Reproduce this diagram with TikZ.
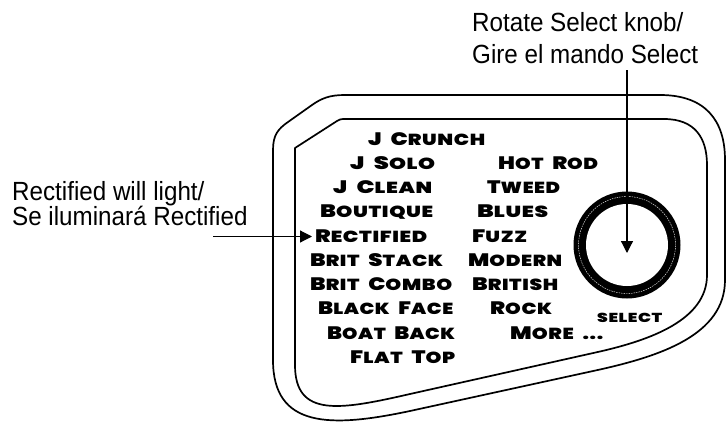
\documentclass[tikz,border=0pt]{standalone}
\usepackage{fontspec}
\usepackage{graphicx}
\setmainfont{Liberation Sans}
\newfontfamily\sidefnt{Liberation Sans}[FakeStretch=0.92]
\newfontfamily\lblfont{Poppins}[UprightFont={* Black}, LetterSpace=3, WordSpace=2.2]
\usetikzlibrary{arrows.meta}
\newcommand\Kb[1]{{\fontsize{18}{18}\selectfont #1}}
\newcommand\lab[2]{\resizebox{#1pt}{\height}{\lblfont\fontsize{16}{16}\selectfont #2}}
\tikzset{
  outline/.style={line width=1.7pt, line join=round},
  lbl/.style={inner sep=0pt, anchor=base west},
  side/.style={inner sep=0pt, anchor=base west, font=\sidefnt\fontsize{26.3}{30}\selectfont},
  pointer/.style={line width=1.2pt, -{Triangle[length=12pt,width=12pt]}}
}
\begin{document}
\begin{tikzpicture}[x=1pt,y=-1pt]
\useasboundingbox (0,0) rectangle (726,423);
% outer outline
\draw[outline] (345,95) -- (660,95)
  .. controls (705,95) and (725,120) .. (725,160)
  -- (725,280)
  .. controls (725,335) and (660,356) .. (600,369.5)
  -- (410,411)
  .. controls (330,428) and (273,428) .. (273,360)
  -- (273,150)
  .. controls (273,135) and (278,129) .. (288,122)
  -- (312,105)
  .. controls (322,98) and (330,95) .. (345,95) -- cycle;
% inner outline
\draw[outline] (345,119) -- (664,119)
  .. controls (695,119) and (707,138) .. (707,165)
  -- (707,275)
  .. controls (707,320) and (650,340) .. (600,351.5)
  -- (410,394)
  .. controls (340,410) and (295,418) .. (295,365)
  -- (295,148)
  -- (337,121)
  .. controls (339,119.5) and (341,119) .. (345,119) -- cycle;
% knob
\coordinate (knob) at (627,245);
\fill (knob) circle (53.5pt);
\fill[white] (knob) circle (41pt);
\draw[white, line width=0.4pt, dash pattern=on 1.5pt off 1pt] (knob) circle (48.5pt);
% labels
\node[lbl] (jcrunch) at (368,145) {\lab{117}{\Kb{J} \Kb{C}RUNCH}};
\node[lbl] (jsolo) at (350,169.25) {\lab{85}{\Kb{J} \Kb{S}OLO}};
\node[lbl] (hotrod) at (498,169.25) {\lab{100}{\Kb{H}OT \Kb{R}OD}};
\node[lbl] (jclean) at (333,193.5) {\lab{99}{\Kb{J} \Kb{C}LEAN}};
\node[lbl] (tweed) at (487,193.5) {\lab{73}{\Kb{T}WEED}};
\node[lbl] (boutique) at (320,217.75) {\lab{113}{\Kb{B}OUTIQUE}};
\node[lbl] (blues) at (477,217.75) {\lab{71}{\Kb{B}LUES}};
\node[lbl] (rect) at (315,242) {\lab{112}{\Kb{R}ECTIFIED}};
\node[lbl] (fuzz) at (472,242) {\lab{55}{\Kb{F}UZZ}};
\node[lbl] (britstack) at (310,266.25) {\lab{133}{\Kb{B}RIT \Kb{S}TACK}};
\node[lbl] (modern) at (468,266.25) {\lab{94}{\Kb{M}ODERN}};
\node[lbl] (britcombo) at (310,290.5) {\lab{142}{\Kb{B}RIT \Kb{C}OMBO}};
\node[lbl] (british) at (472,290.5) {\lab{86}{\Kb{B}RITISH}};
\node[lbl] (blackface) at (318,314.75) {\lab{135}{\Kb{B}LACK \Kb{F}ACE}};
\node[lbl] (rock) at (490,314.75) {\lab{62}{\Kb{R}OCK}};
\node[lbl] (boatback) at (327,339) {\lab{128}{\Kb{B}OAT \Kb{B}ACK}};
\node[lbl] (more) at (510,339) {\lab{93}{\Kb{M}ORE ...}};
\node[lbl] (flattop) at (350,363.25) {\lab{105}{\Kb{F}LAT \Kb{T}OP}};
\node[lbl] (select) at (597,322) {\resizebox{65pt}{\height}{\lblfont\fontsize{13}{13}\selectfont SELECT}};
% side texts
\node[side] (top1) at (472,31.5) {Rotate Select knob/};
\node[side] (top2) at (472,63) {Gire el mando Select};
\node[side] (left1) at (12,200) {Rectified will light/};
\node[side] (left2) at (12,225) {Se iluminará Rectified};
% pointers
\coordinate (topstart) at (627,70);
\coordinate (knobtip) at (627,253);
\coordinate (leftstart) at (213,236.5);
\coordinate (recttip) at (312,236.5);
\draw[pointer] (topstart) -- (knobtip);
\draw[pointer] (leftstart) -- (recttip);
\end{tikzpicture}
\end{document}
